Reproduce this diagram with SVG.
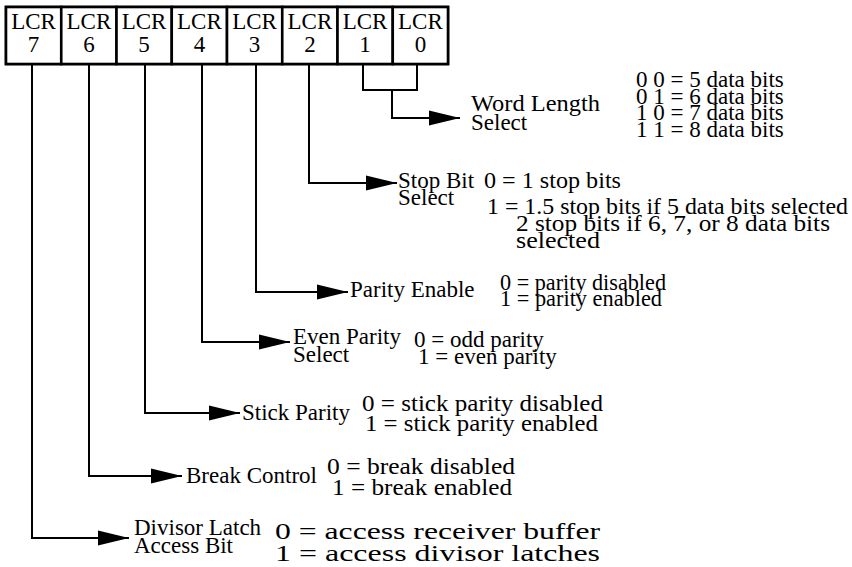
<svg xmlns="http://www.w3.org/2000/svg" width="852" height="567" viewBox="0 0 852 567" font-family="Liberation Serif, DejaVu Serif, serif">
<defs>
<marker id="ah" markerUnits="userSpaceOnUse" markerWidth="32" markerHeight="16" refX="31" refY="8" orient="auto">
<path d="M0,0.5 L31,8 L0,15.5 z" fill="#000"/>
</marker>
<style>
text{font-family:'Liberation Serif','DejaVu Serif',serif;font-size:23px;fill:#000}
.reg text{text-anchor:middle;font-size:23px}
.big{font-size:24px}
.cell{fill:#fff;stroke:#000;stroke-width:2.6}
.wire{fill:none;stroke:#000;stroke-width:2}
</style>
</defs>
<rect width="852" height="567" fill="#fff"/>
<g id="register" class="reg">
<rect x="6" y="7" width="442" height="57" fill="#fff" stroke="#000" stroke-width="2.6"/>
<g id="lcr7"><rect class="cell" x="6" y="7" width="55.25" height="57"/><text x="33.6" y="29">LCR</text><text x="33.6" y="52">7</text></g>
<g id="lcr6"><rect class="cell" x="61.25" y="7" width="55.25" height="57"/><text x="88.9" y="29">LCR</text><text x="88.9" y="52">6</text></g>
<g id="lcr5"><rect class="cell" x="116.5" y="7" width="55.25" height="57"/><text x="144.1" y="29">LCR</text><text x="144.1" y="52">5</text></g>
<g id="lcr4"><rect class="cell" x="171.75" y="7" width="55.25" height="57"/><text x="199.4" y="29">LCR</text><text x="199.4" y="52">4</text></g>
<g id="lcr3"><rect class="cell" x="227" y="7" width="55.25" height="57"/><text x="254.6" y="29">LCR</text><text x="254.6" y="52">3</text></g>
<g id="lcr2"><rect class="cell" x="282.25" y="7" width="55.25" height="57"/><text x="309.9" y="29">LCR</text><text x="309.9" y="52">2</text></g>
<g id="lcr1"><rect class="cell" x="337.5" y="7" width="55.25" height="57"/><text x="365.1" y="29">LCR</text><text x="365.1" y="52">1</text></g>
<g id="lcr0"><rect class="cell" x="392.75" y="7" width="55.25" height="57"/><text x="420.4" y="29">LCR</text><text x="420.4" y="52">0</text></g>
</g>
<g id="connectors">
<path class="wire" d="M363,64 V90 H417 V64"/>
<path class="wire" d="M392,90 V118 H460" marker-end="url(#ah)"/>
<path class="wire" d="M309,64 V183 H397" marker-end="url(#ah)"/>
<path class="wire" d="M256,64 V292 H348" marker-end="url(#ah)"/>
<path class="wire" d="M202,64 V342 H290" marker-end="url(#ah)"/>
<path class="wire" d="M145,64 V413 H240" marker-end="url(#ah)"/>
<path class="wire" d="M89,64 V476 H182" marker-end="url(#ah)"/>
<path class="wire" d="M32,64 V538 H129" marker-end="url(#ah)"/>
</g>
<g id="word-length">
<text x="471" y="111" textLength="129" lengthAdjust="spacingAndGlyphs">Word Length</text>
<text x="471" y="130">Select</text>
<text x="636" y="87">0 0 = 5 data bits</text>
<text x="636" y="104">0 1 = 6 data bits</text>
<text x="636" y="120">1 0 = 7 data bits</text>
<text x="636" y="137">1 1 = 8 data bits</text>
</g>
<g id="stop-bit">
<text x="398" y="188">Stop Bit</text>
<text x="398" y="205">Select</text>
<text x="484" y="188" textLength="137" lengthAdjust="spacingAndGlyphs">0 = 1 stop bits</text>
<text x="487" y="214" textLength="361" lengthAdjust="spacingAndGlyphs">1 = 1.5 stop bits if 5 data bits selected</text>
<text x="516" y="231" textLength="314" lengthAdjust="spacingAndGlyphs">2 stop bits if 6, 7, or 8 data bits</text>
<text x="516" y="248" textLength="84" lengthAdjust="spacingAndGlyphs">selected</text>
</g>
<g id="parity-enable">
<text x="350" y="297">Parity Enable</text>
<text x="500" y="290" textLength="166" lengthAdjust="spacingAndGlyphs">0 = parity disabled</text>
<text x="500" y="306" textLength="162" lengthAdjust="spacingAndGlyphs">1 = parity enabled</text>
</g>
<g id="even-parity">
<text x="293" y="344">Even Parity</text>
<text x="293" y="362">Select</text>
<text x="414" y="347">0 = odd parity</text>
<text x="418" y="364">1 = even parity</text>
</g>
<g id="stick-parity">
<text x="242" y="420">Stick Parity</text>
<text x="362" y="411" textLength="241" lengthAdjust="spacingAndGlyphs">0 = stick parity disabled</text>
<text x="365" y="431" textLength="233" lengthAdjust="spacingAndGlyphs">1 = stick parity enabled</text>
</g>
<g id="break-control">
<text x="186" y="483">Break Control</text>
<text class="big" x="327" y="474" textLength="188" lengthAdjust="spacingAndGlyphs">0 = break disabled</text>
<text class="big" x="332" y="495" textLength="180" lengthAdjust="spacingAndGlyphs">1 = break enabled</text>
</g>
<g id="dlab">
<text x="134" y="535">Divisor Latch</text>
<text x="134" y="553">Access Bit</text>
<text class="big" x="275" y="539" textLength="325" lengthAdjust="spacingAndGlyphs">0 = access receiver buffer</text>
<text class="big" x="275" y="561" textLength="325" lengthAdjust="spacingAndGlyphs">1 = access divisor latches</text>
</g>
</svg>
